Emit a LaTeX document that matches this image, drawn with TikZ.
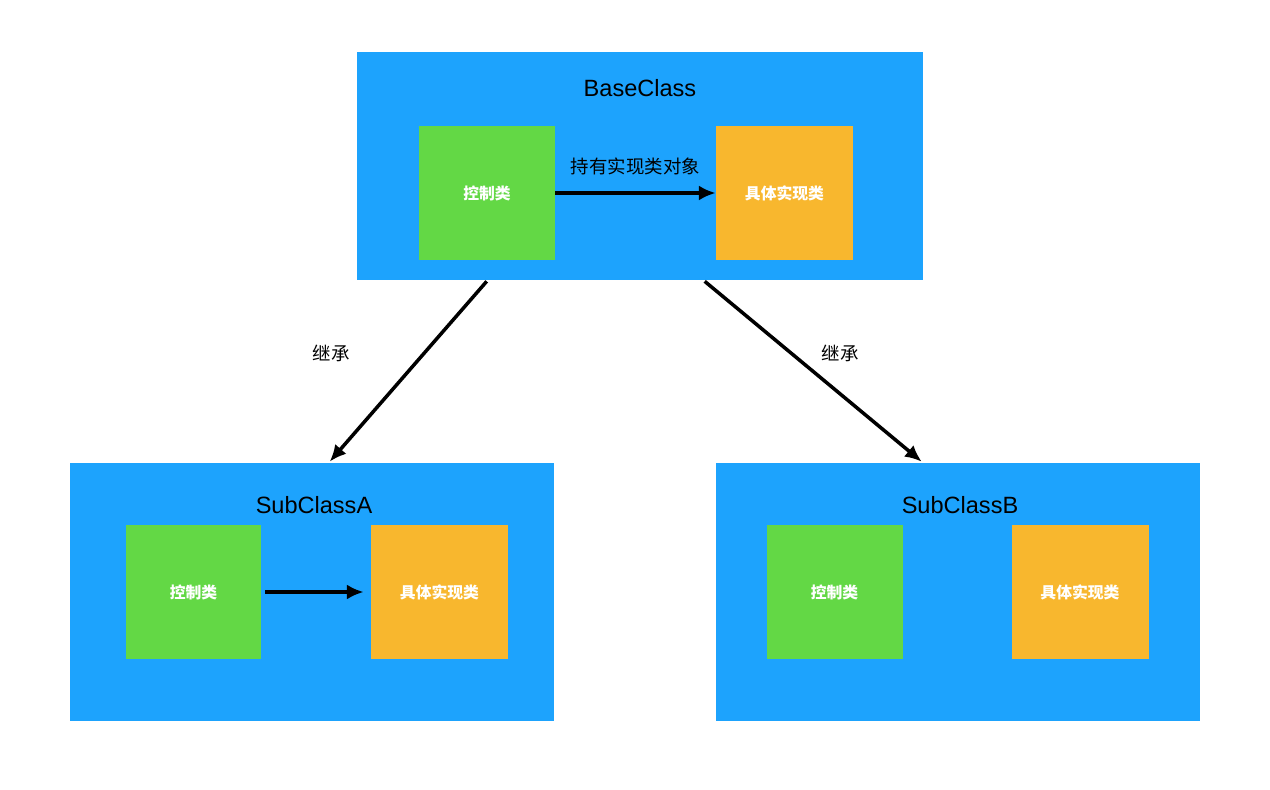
\documentclass[tikz,border=0pt]{standalone}
\usepackage{fontspec}
\setmainfont{Liberation Sans}
\newfontfamily\cjk{Noto Sans CJK SC}
\usetikzlibrary{arrows.meta,calc}
\definecolor{clsblue}{HTML}{1DA3FD}
\definecolor{ctrlgreen}{HTML}{63D845}
\definecolor{implorange}{HTML}{F8B72E}
\tikzset{
  clsbox/.style={fill=clsblue,draw=none,inner sep=0pt},
  ctrlbox/.style={fill=ctrlgreen,draw=none,minimum width=2.72cm,minimum height=2.68cm,inner sep=0pt,
    text=white,font=\cjk\bfseries\fontsize{9}{11}\selectfont},
  implbox/.style={fill=implorange,draw=none,minimum width=2.74cm,minimum height=2.68cm,inner sep=0pt,
    text=white,font=\cjk\bfseries\fontsize{9}{11}\selectfont},
  title/.style={font=\fontsize{13.4}{16}\selectfont},
  cjklabel/.style={font=\cjk\fontsize{10.5}{12}\selectfont},
  arr/.style={-{Latex[length=9.5pt,width=8.5pt]},line width=2pt}
}
\begin{document}
\begin{tikzpicture}[x=0.02cm,y=-0.02cm]
  \useasboundingbox (0,0) rectangle (1270,790);
  % base class
  \node[clsbox,minimum width=11.32cm,minimum height=4.56cm] (base) at (640,166) {};
  \node[title] (basetitle) at (640,88) {BaseClass};
  \node[ctrlbox] (basectrl) at (487,193) {控制类};
  \node[implbox] (baseimpl) at (784.5,193) {具体实现类};
  \draw[arr] (basectrl.east) -- (baseimpl.west) node[cjklabel,midway,above=6pt] (hold) {持有实现类对象};
  % sub classes
  \node[clsbox,minimum width=9.68cm,minimum height=5.16cm] (suba) at (312,592) {};
  \node[title] (subatitle) at (314,505) {SubClassA};
  \node[ctrlbox] (subactrl) at (193.5,592) {控制类};
  \node[implbox] (subaimpl) at (439.5,592) {具体实现类};
  \draw[arr,shorten <=2pt,shorten >=4pt] (subactrl.east) -- (subaimpl.west);
  \node[clsbox,minimum width=9.68cm,minimum height=5.16cm] (subb) at (958,592) {};
  \node[title] (subbtitle) at (960,505) {SubClassB};
  \node[ctrlbox] (subbctrl) at (834.5,592) {控制类};
  \node[implbox] (subbimpl) at (1080,592) {具体实现类};
  % inheritance
  \draw[arr] ($(base.south west)+(130,1)$) -- ($(suba.north west)+(260,-1)$);
  \draw[arr] ($(base.south west)+(348,1)$) -- ($(subb.north west)+(206,-1)$);
  \node[cjklabel] (inha) at (331,353) {继承};
  \node[cjklabel] (inhb) at (840,353) {继承};
\end{tikzpicture}
\end{document}
